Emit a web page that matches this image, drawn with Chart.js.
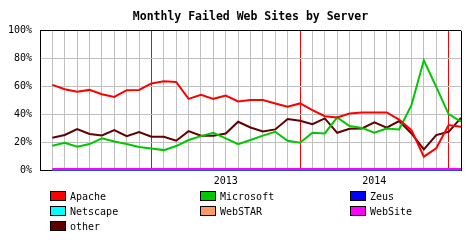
<!DOCTYPE html>
<html>
<head>
<meta charset="utf-8">
<script src="https://cdn.jsdelivr.net/npm/chart.js@4"></script>
<style>
    body { margin: 0; background: #fff; }
    #wrap { position: relative; width: 468px; height: 240px; }
    #legend { position: absolute; left: 0; top: 0; font: 10px "DejaVu Sans Mono", monospace; color: #000; }
    .item { position: absolute; white-space: nowrap; }
    .box { position: absolute; left: 0; top: 0; width: 14px; height: 8px; border: 1px solid #000; }
    .lbl { position: absolute; left: 20px; top: 0px; line-height: 12px; }
</style>
</head>
<body>
<div id="wrap">
    <canvas id="chart" width="468" height="240"></canvas>
    <div id="legend"></div>
</div>
<script>
// mois (avril 2012 -> fevrier 2015), avril 2012 sans valeur
const months = [
    "2012-04", "2012-05", "2012-06", "2012-07", "2012-08", "2012-09", "2012-10", "2012-11", "2012-12",
    "2013-01", "2013-02", "2013-03", "2013-04", "2013-05", "2013-06", "2013-07", "2013-08", "2013-09",
    "2013-10", "2013-11", "2013-12", "2014-01", "2014-02", "2014-03", "2014-04", "2014-05", "2014-06",
    "2014-07", "2014-08", "2014-09", "2014-10", "2014-11", "2014-12", "2015-01", "2015-02"
];
const year_ticks = { "2013-07": "2013", "2014-07": "2014" };
const year_lines = ["2013-01", "2014-01", "2015-01"];
const title_text = "Monthly Failed Web Sites by Server";

// valeurs en % de mai 2012 a fevrier 2015
const apache = [61.3, 58.2, 56.3, 57.7, 54.6, 52.7, 57.5, 57.7, 62.3, 63.9, 63.4, 51.3, 54.2, 51.3, 53.7, 49.4, 50.4,
    50.5, 48.0, 45.6, 48.0, 43.2, 38.9, 38.0, 40.8, 41.5, 41.6, 41.6, 36.5, 28.9, 9.9, 15.9, 32.5, 31.3];
const microsoft = [17.7, 19.9, 17.0, 18.9, 23.0, 20.8, 18.9, 16.8, 15.8, 14.6, 17.5, 21.8, 24.6, 27.0, 23.0, 18.9, 21.8,
    25.0, 27.7, 21.3, 19.9, 27.0, 26.5, 38.0, 31.8, 30.5, 27.0, 30.1, 29.4, 46.8, 78.9, 59.9, 40.4, 34.9];
const zeus = [0, 0, 0, 0, 0, 0, 0, 0, 0, 0, 0, 0, 0, 0, 0, 0, 0, 0, 0, 0, 0, 0, 0, 0, 0, 0, 0, 0, 0, 0, 0, 0, 0, 0];
const netscape = [0, 0, 0, 0, 0, 0, 0, 0, 0, 0, 0, 0, 0, 0, 0, 0, 0, 0, 0, 0, 0, 0, 0, 0, 0, 0, 0, 0, 0, 0, 0, 0, 0, 0];
const webstar = [0, 0, 0, 0, 0, 0, 0, 0, 0, 0, 0, 0, 0, 0, 0, 0, 0, 0, 0, 0, 0, 0, 0, 0, 0, 0, 0, 0, 0, 0, 0, 0, 0, 0];
const website = [1, 1, 1, 1, 1, 1, 1, 1, 1, 1, 1, 1, 1, 1, 1, 1, 1, 1, 1, 1, 1, 1, 1, 1, 1, 1, 1, 1, 1, 1, 1, 1, 1, 1];
const other = [23.5, 25.4, 29.6, 26.1, 25.1, 28.9, 24.6, 27.5, 24.2, 24.2, 21.3, 28.2, 24.9, 24.9, 26.5, 34.9, 30.8,
    28.0, 29.4, 36.8, 35.6, 33.2, 37.3, 27.0, 29.9, 30.1, 34.4, 30.6, 35.4, 26.5, 15.1, 25.4, 27.7, 37.7];

const series = [
    { label: "Apache", data: apache, color: "#ff0000", col: 0, row: 0 },
    { label: "Microsoft", data: microsoft, color: "#00c800", col: 1, row: 0 },
    { label: "Zeus", data: zeus, color: "#0000ff", col: 2, row: 0 },
    { label: "Netscape", data: netscape, color: "#00ffff", col: 0, row: 1 },
    { label: "WebSTAR", data: webstar, color: "#ff9966", col: 1, row: 1 },
    { label: "WebSite", data: website, color: "#ff00ff", col: 2, row: 1 },
    { label: "other", data: other, color: "#600000", col: 0, row: 2 },
];

const mono = "'DejaVu Sans Mono', monospace";

const datasets = series.map((s) => ({
    label: s.label,
    data: [null].concat(s.data),
    borderColor: s.color,
    backgroundColor: s.color,
    borderWidth: 2,
    pointRadius: 0,
    tension: 0,
    fill: false,
    clip: s.label === "WebSite" ? 4 : 0,
    order: (s.label === "Zeus" || s.label === "Netscape" || s.label === "WebSTAR") ? 2 : 0,
}));

// legende en html, 3 colonnes
const legend = document.getElementById("legend");
const col_x = [50, 200, 350];
const row_y = [191, 206, 221];
for (const s of series) {
    const item = document.createElement("div");
    item.className = "item";
    item.style.left = col_x[s.col] + "px";
    item.style.top = row_y[s.row] + "px";
    item.innerHTML = '<div class="box" style="background:' + s.color + '"></div><div class="lbl">' + s.label + "</div>";
    legend.appendChild(item);
}

// titre centre sur la zone du graphique (pas sur tout le canvas)
const title_plugin = {
    id: "plot_title",
    afterDraw(chart) {
        const c = chart.ctx;
        const area = chart.chartArea;
        c.save();
        c.fillStyle = "#000";
        c.font = "bold 11.5px " + mono;
        c.textAlign = "center";
        c.textBaseline = "middle";
        c.fillText(title_text, (area.left + area.right) / 2, 17);
        c.restore();
    },
};

new Chart(document.getElementById("chart"), {
    type: "line",
    data: { labels: months, datasets: datasets },
    plugins: [title_plugin],
    options: {
        responsive: false,
        animation: false,
        layout: { padding: { left: 0, right: 7, top: 30.8, bottom: 0 } },
        plugins: {
            legend: { display: false },
            tooltip: { enabled: false },
            title: { display: false },
        },
        scales: {
            x: {
                offset: false,
                border: { color: "#000", width: 1 },
                grid: {
                    drawTicks: false,
                    color: (ctx) => {
                        const m = months[ctx.index];
                        if (ctx.index === 0 || ctx.index === months.length - 1) return "#000";
                        if (year_lines.includes(m)) return "#ff0000";
                        return "#c0c0c0";
                    },
                },
                ticks: {
                    autoSkip: false,
                    maxRotation: 0,
                    padding: 5,
                    color: "#000",
                    font: { family: mono, size: 10 },
                    callback: (value, index) => year_ticks[months[index]] || "",
                },
                afterFit: (scale) => { scale.height = 69.5; },
            },
            y: {
                min: 0,
                max: 100,
                border: { color: "#000", width: 1 },
                grid: {
                    drawTicks: false,
                    color: (ctx) => (ctx.tick.value === 100 ? "#000" : "#c0c0c0"),
                },
                ticks: {
                    stepSize: 20,
                    padding: 8,
                    color: "#000",
                    font: { family: mono, size: 10 },
                    callback: (v) => v + "%",
                },
                afterFit: (scale) => { scale.width = 40; },
            },
        },
    },
});
</script>
</body>
</html>
